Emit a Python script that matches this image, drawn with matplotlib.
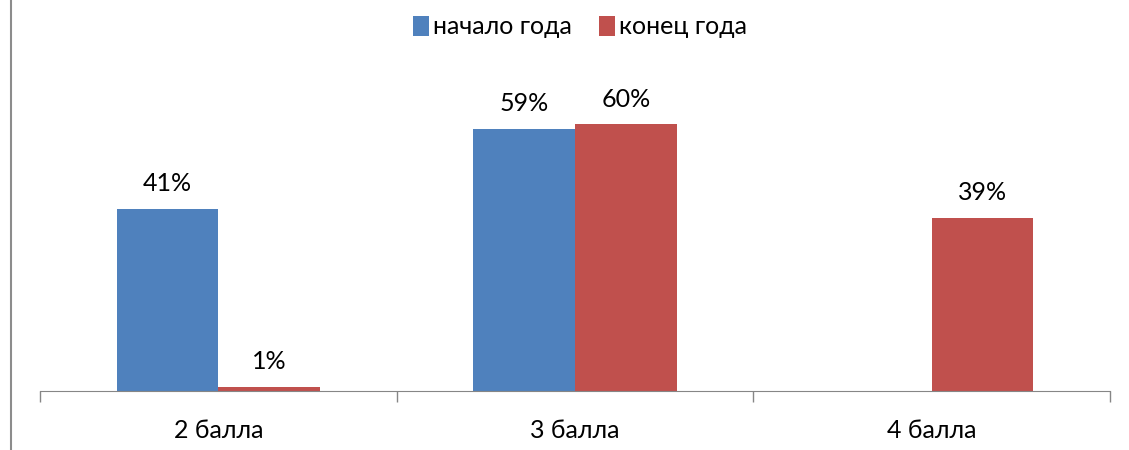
import matplotlib.pyplot as plt
from matplotlib.lines import Line2D
import numpy as np

# data
categories = ["2 балла", "3 балла", "4 балла"]
start_year = [41, 59, 0]
end_year = [1, 60, 39]
series_names = ["начало года", "конец года"]

BLUE = "#4F81BD"
RED = "#C0504D"
GRAY = "#868686"

plt.rcParams['font.family'] = ['Lato', 'DejaVu Sans']
FS = 18


def main():
    fig = plt.figure(figsize=(11.29, 4.5), dpi=100)
    ax = fig.add_axes([40 / 1129, (450 - 391) / 450, 1070 / 1129, 311 / 450])

    x = np.arange(len(categories))
    w = 0.285
    b1 = ax.bar(x - w / 2, start_year, w, color=BLUE, label=series_names[0])
    b2 = ax.bar(x + w / 2, end_year, w, color=RED, label=series_names[1])

    for bars, vals in ((b1, start_year), (b2, end_year)):
        for rect, v in zip(bars, vals):
            if v == 0:
                continue
            ax.annotate(f"{v}%", (rect.get_x() + rect.get_width() / 2, v),
                        xytext=(0, 10), textcoords="offset points",
                        ha="center", va="bottom", fontsize=FS)

    ax.set_xlim(-0.5, len(categories) - 0.5)
    ax.set_ylim(0, 70)
    ax.set_yticks([])
    ax.set_xticks(x)
    ax.set_xticklabels(categories, fontsize=FS)
    ax.set_xticks(np.arange(-0.5, len(categories), 1), minor=True)
    ax.tick_params(axis="x", which="major", length=0, pad=20)
    ax.tick_params(axis="x", which="minor", length=8, color=GRAY, width=1)
    for s in ("top", "right", "left"):
        ax.spines[s].set_visible(False)
    ax.spines["bottom"].set_color(GRAY)

    ax.legend(loc="center", bbox_to_anchor=(580 / 1129, (450 - 27) / 450),
              bbox_transform=fig.transFigure, ncol=2, frameon=False,
              fontsize=FS, handlelength=0.65, handleheight=0.9,
              handletextpad=0.15, columnspacing=1.1)

    fig.add_artist(Line2D([11 / 1129, 11 / 1129], [0, 1], color="#8C8C8C", lw=1.5,
                          transform=fig.transFigure))

    fig.savefig("out.png", dpi=100)


if __name__ == "__main__":
    main()
